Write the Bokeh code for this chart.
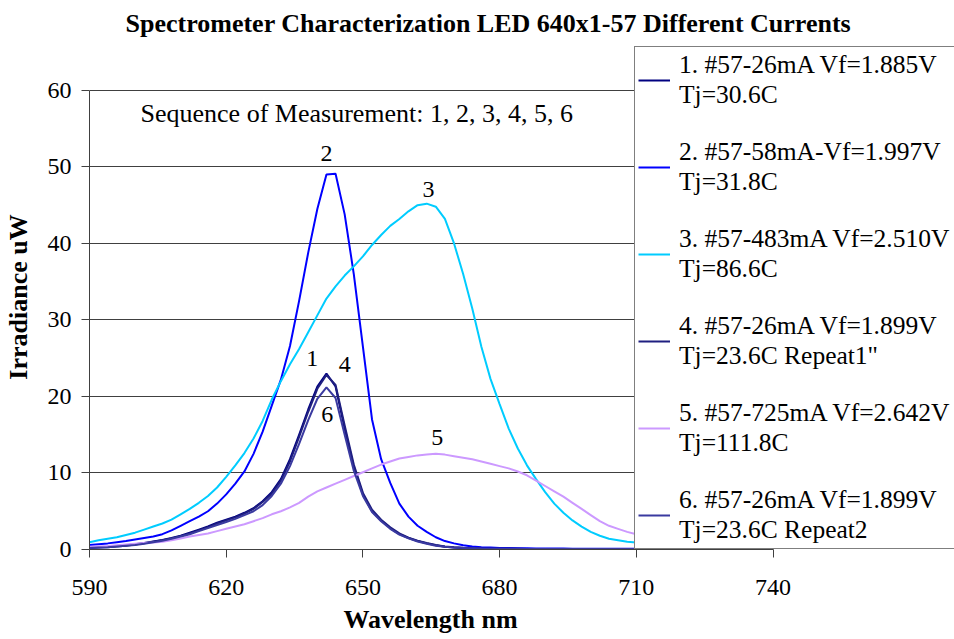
from bokeh.plotting import figure
from bokeh.models import Legend, LegendItem, Range1d, FixedTicker, ColumnDataSource, Title
from bokeh.embed import file_html
from bokeh.resources import INLINE
from bokeh.core.properties import value

FONT = "Liberation Serif"

# ---------------- data ----------------
wavelength = list(range(590, 714, 2))

s1 = [0.25, 0.3, 0.35, 0.45, 0.55, 0.7, 0.85, 1.05, 1.25, 1.5,
      1.8, 2.2, 2.6, 3.0, 3.5, 3.9, 4.3, 4.8, 5.4, 6.3,
      7.5, 9.2, 11.8, 15.0, 18.3, 21.3, 23.0, 21.3, 15.8, 10.8,
      7.2, 5.0, 3.8, 2.8, 2.0, 1.5, 1.1, 0.8, 0.55, 0.35,
      0.25, 0.2, 0.15, 0.12, 0.1, 0.1, 0.09, 0.09, 0.08, 0.08,
      0.08, 0.07, 0.07, 0.07, 0.06, 0.06, 0.06, 0.06, 0.05, 0.05,
      0.05, 0.05]

s2 = [0.6, 0.7, 0.8, 0.95, 1.1, 1.3, 1.5, 1.7, 2.0, 2.5,
      3.1, 3.7, 4.3, 5.0, 6.0, 7.2, 8.6, 10.2, 12.5, 15.4,
      18.8, 22.2, 26.6, 32.5, 38.8, 44.5, 49.0, 49.1, 43.8, 36.0,
      26.5, 17.0, 11.8, 8.7, 6.0, 4.3, 3.1, 2.3, 1.6, 1.1,
      0.8, 0.55, 0.4, 0.3, 0.25, 0.2, 0.18, 0.16, 0.15, 0.14,
      0.13, 0.12, 0.12, 0.11, 0.11, 0.1, 0.1, 0.1, 0.1, 0.1,
      0.1, 0.1]

s3 = [0.95, 1.2, 1.4, 1.6, 1.9, 2.2, 2.6, 3.0, 3.4, 3.9,
      4.6, 5.3, 6.1, 7.0, 8.1, 9.5, 11.0, 12.6, 14.5, 16.8,
      19.6, 22.0, 24.2, 26.2, 28.4, 30.6, 32.8, 34.4, 35.8, 37.0,
      38.3, 39.8, 41.1, 42.3, 43.2, 44.2, 45.0, 45.2, 44.8, 43.2,
      40.0, 36.0, 31.5, 26.5, 22.3, 19.0, 15.8, 13.2, 11.0, 9.2,
      7.5, 6.0, 4.8, 3.8, 3.0, 2.3, 1.8, 1.4, 1.2, 1.0,
      0.9, 0.8]

s4 = [0.2, 0.25, 0.3, 0.4, 0.5, 0.65, 0.8, 1.0, 1.2, 1.45,
      1.75, 2.1, 2.5, 2.9, 3.4, 3.8, 4.2, 4.7, 5.3, 6.2,
      7.3, 9.0, 11.5, 14.7, 18.0, 21.0, 22.8, 21.5, 16.2, 11.1,
      7.4, 5.2, 3.9, 2.9, 2.1, 1.55, 1.15, 0.85, 0.6, 0.4,
      0.3, 0.22, 0.17, 0.13, 0.11, 0.1, 0.09, 0.09, 0.08, 0.08,
      0.07, 0.07, 0.07, 0.06, 0.06, 0.06, 0.06, 0.05, 0.05, 0.05,
      0.05, 0.05]

s5 = [0.35, 0.4, 0.45, 0.55, 0.65, 0.75, 0.85, 0.9, 1.0, 1.2,
      1.45, 1.7, 1.9, 2.1, 2.4, 2.7, 3.0, 3.3, 3.7, 4.1,
      4.6, 5.0, 5.5, 6.1, 6.9, 7.6, 8.1, 8.6, 9.1, 9.6,
      10.1, 10.6, 11.1, 11.5, 11.9, 12.1, 12.3, 12.4, 12.5, 12.4,
      12.2, 12.0, 11.8, 11.5, 11.2, 10.9, 10.6, 10.2, 9.7, 9.0,
      8.3, 7.6, 6.9, 6.1, 5.3, 4.5, 3.7, 3.1, 2.7, 2.3,
      2.0, 1.8]

s6 = [0.2, 0.25, 0.3, 0.4, 0.5, 0.6, 0.75, 0.95, 1.15, 1.4,
      1.7, 2.0, 2.4, 2.8, 3.2, 3.6, 4.0, 4.5, 5.0, 5.8,
      7.0, 8.6, 10.9, 13.8, 16.9, 19.7, 21.2, 19.8, 15.0, 10.3,
      7.0, 4.9, 3.7, 2.7, 1.95, 1.45, 1.05, 0.75, 0.5, 0.35,
      0.25, 0.2, 0.15, 0.12, 0.1, 0.09, 0.09, 0.08, 0.08, 0.07,
      0.07, 0.07, 0.06, 0.06, 0.06, 0.05, 0.05, 0.05, 0.05, 0.05,
      0.05, 0.05]

series_names = [
    "1. #57-26mA Vf=1.885V\nTj=30.6C",
    "2. #57-58mA-Vf=1.997V\nTj=31.8C",
    "3. #57-483mA Vf=2.510V\nTj=86.6C",
    "4. #57-26mA Vf=1.899V\nTj=23.6C Repeat1\"",
    "5. #57-725mA Vf=2.642V\nTj=111.8C",
    "6. #57-26mA Vf=1.899V\nTj=23.6C Repeat2",
]
series_colors = ["#000080", "#0000FF", "#00CCFF", "#1F1F80", "#CC99FF", "#3A3AA0"]

x_ticks = [590, 620, 650, 680, 710, 740]
y_ticks = [0, 10, 20, 30, 40, 50, 60]

peak_label_text = ["2", "3", "1", "4", "6", "5"]
peak_label_x = [642.0, 664.4, 638.9, 646.0, 642.2, 666.3]
peak_label_y = [51.8, 47.1, 24.9, 24.2, 17.7, 14.6]

note_text = ["Sequence of Measurement: 1, 2, 3, 4, 5, 6"]
note_x = [601.2]
note_y = [57.0]

# ---------------- figure ----------------
# plot frame spans the legend area too; axes are bounded to the Excel plot area
p = figure(width=954, height=639, output_backend="svg", toolbar_location=None,
           x_range=Range1d(590, 779.83), y_range=Range1d(0, 66.0),
           min_border_left=89, min_border_right=0,
           min_border_top=43, min_border_bottom=90,
           background_fill_color="white", border_fill_color="white")
p.outline_line_color = None

p.title.text = "Spectrometer Characterization LED 640x1-57 Different Currents"
p.title.text_font = FONT
p.title.text_font_size = "26px"
p.title.text_font_style = "bold"
p.title.text_color = "black"
p.title.align = "left"
p.title.offset = 36
p.title.standoff = 13

for ax in (p.xaxis[0], p.yaxis[0]):
    ax.major_label_text_font = FONT
    ax.major_label_text_font_size = "24px"
    ax.major_label_text_color = "black"
    ax.axis_label_text_font = FONT
    ax.axis_label_text_font_size = "26px"
    ax.axis_label_text_font_style = "bold"
    ax.axis_label_text_color = "black"
    ax.axis_line_color = "#404040"
    ax.major_tick_line_color = "#404040"
    ax.major_tick_out = 8
    ax.major_tick_in = 0
    ax.minor_tick_line_color = None

p.xaxis.ticker = FixedTicker(ticks=x_ticks)
p.yaxis.ticker = FixedTicker(ticks=y_ticks)
p.xaxis.bounds = (590, 740)
p.yaxis.bounds = (0, 60)
p.yaxis.axis_label = "Irradiance uW"
p.xaxis.major_label_standoff = 22
p.yaxis.major_label_standoff = 10
p.yaxis.axis_label_standoff = 12

# x-axis title, centred under the 590-740 plot area
p.add_layout(Title(text="Wavelength nm", align="left", offset=254, standoff=11,
                   text_font=FONT, text_font_size="26px", text_font_style="bold",
                   text_color="black"), "below")

p.xgrid.grid_line_color = None
p.ygrid.grid_line_color = "#404040"
p.ygrid.grid_line_width = 1

src = ColumnDataSource(dict(x=wavelength, s1=s1, s2=s2, s3=s3, s4=s4, s5=s5, s6=s6))
renderers = []
for i, col in enumerate(["s1", "s2", "s3", "s4", "s5", "s6"]):
    r = p.line("x", col, source=src, line_color=series_colors[i], line_width=2)
    renderers.append(r)

p.text(x=peak_label_x, y=peak_label_y, text=peak_label_text,
       text_font=value(FONT), text_font_size="24px", text_color="black",
       text_align="center", text_baseline="middle")
p.text(x=note_x, y=note_y, text=note_text,
       text_font=value(FONT), text_font_size="26px", text_color="black",
       text_align="left", text_baseline="middle")

legend = Legend(
    items=[LegendItem(label=series_names[i], renderers=[renderers[i]]) for i in range(6)],
    location=(545, 0),
    label_text_font=FONT, label_text_font_size="25.5px", label_text_color="black",
    glyph_width=32, glyph_height=30, label_standoff=9, label_width=300,
    padding=3, spacing=27, margin=0,
    border_line_color="black", border_line_width=1.5,
    background_fill_color="white", background_fill_alpha=1.0,
)
p.add_layout(legend)

open("out.html", "w").write(file_html(p, INLINE))
